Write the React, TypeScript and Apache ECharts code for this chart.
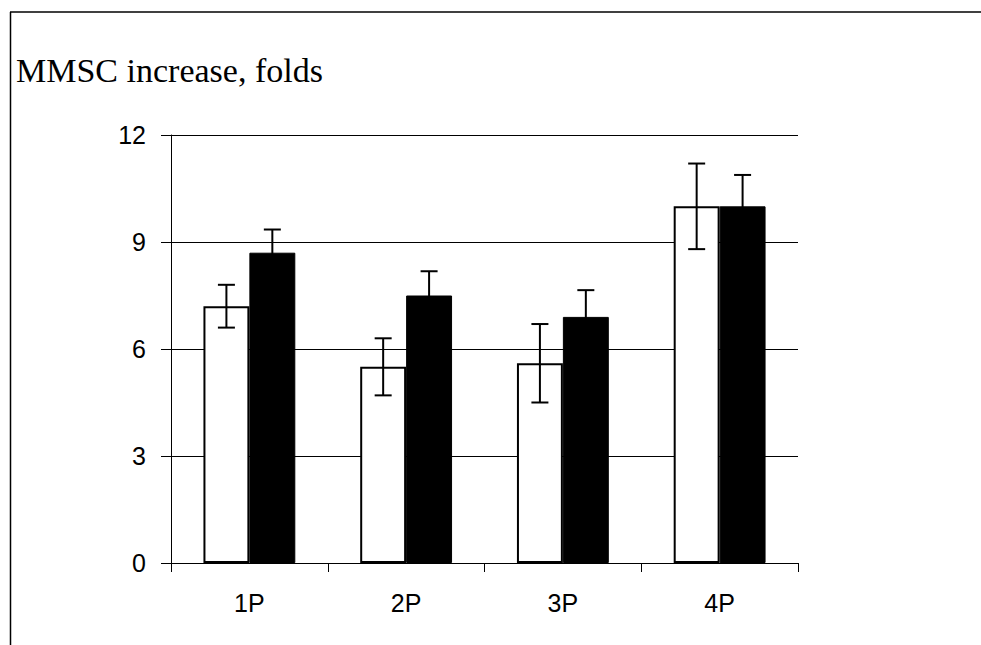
import React, { useEffect, useRef } from "react";
import * as echarts from "echarts";

const categories = ["1P", "2P", "3P", "4P"];
const whiteValues = [7.2, 5.5, 5.6, 10.0];
const whiteErrors = [0.6, 0.8, 1.1, 1.2];
const blackValues = [8.7, 7.5, 6.9, 10.0];
const blackErrors = [0.65, 0.68, 0.75, 0.88];
const yTicks = [0, 3, 6, 9, 12];
const titleText = "MMSC increase, folds";

const BAR_FRAC = 0.293;

function errorSeries(values: number[], errors: number[], side: number) {
  return {
    type: "custom",
    z: 10,
    silent: true,
    data: values.map((v, i) => [i, v, errors[i]]),
    renderItem: (params: any, api: any) => {
      const idx = api.value(0);
      const val = api.value(1);
      const err = api.value(2);
      const band = api.size([1, 0])[0];
      const c = api.coord([idx, val]);
      const x = c[0] + side * band * BAR_FRAC / 2;
      const yTop = api.coord([idx, val + err])[1];
      const yBot = api.coord([idx, val - err])[1];
      const half = 8.5;
      const style = { stroke: "#000", lineWidth: 2, fill: "none" };
      return {
        type: "group",
        children: [
          { type: "line", shape: { x1: x, y1: yTop, x2: x, y2: yBot }, style },
          { type: "line", shape: { x1: x - half, y1: yTop, x2: x + half, y2: yTop }, style },
          { type: "line", shape: { x1: x - half, y1: yBot, x2: x + half, y2: yBot }, style },
        ],
      };
    },
  };
}

export default function App() {
  const ref = useRef<HTMLDivElement>(null);
  useEffect(() => {
    if (!ref.current) return;
    const chart = echarts.init(ref.current, null, { renderer: "svg" });
    chart.setOption({
      animation: false,
      backgroundColor: "#fff",
      grid: { left: 171, top: 135, right: 183, bottom: 82, containLabel: false },
      graphic: [
        { type: "line", shape: { x1: 10, y1: 12, x2: 981, y2: 12 }, style: { stroke: "#000", lineWidth: 1.5 } },
        { type: "line", shape: { x1: 10.5, y1: 12, x2: 10.5, y2: 645 }, style: { stroke: "#000", lineWidth: 1.5 } },
        {
          type: "text",
          left: 16,
          top: 53,
          style: {
            text: titleText,
            fill: "#000",
            font: "34px 'Liberation Serif', 'Times New Roman', serif",
          },
        },
      ],
      xAxis: {
        type: "category",
        data: categories,
        boundaryGap: true,
        axisLine: { show: true, lineStyle: { color: "#000", width: 1 } },
        axisTick: { show: true, alignWithLabel: false, length: 9, lineStyle: { color: "#000", width: 1 } },
        axisLabel: {
          color: "#000",
          fontSize: 25,
          fontFamily: "'Liberation Sans', Arial, sans-serif",
          margin: 27,
        },
        splitLine: { show: false },
      },
      yAxis: {
        type: "value",
        min: 0,
        max: 12,
        interval: 3,
        axisLine: { show: true, lineStyle: { color: "#000", width: 1 } },
        axisTick: { show: true, length: 10, lineStyle: { color: "#000", width: 1 } },
        axisLabel: {
          color: "#000",
          fontSize: 25,
          fontFamily: "'Liberation Sans', Arial, sans-serif",
          margin: 25,
          formatter: (v: number) => (yTicks.includes(v) ? String(v) : ""),
        },
        splitLine: { show: true, lineStyle: { color: "#000", width: 1 } },
      },
      series: [
        {
          type: "bar",
          data: whiteValues,
          barWidth: (BAR_FRAC * 100).toFixed(1) + "%",
          barGap: "0%",
          itemStyle: { color: "#fff", borderColor: "#000", borderWidth: 2 },
          z: 3,
        },
        {
          type: "bar",
          data: blackValues,
          barWidth: (BAR_FRAC * 100).toFixed(1) + "%",
          barGap: "0%",
          itemStyle: { color: "#000", borderColor: "#000", borderWidth: 1 },
          z: 3,
        },
        errorSeries(whiteValues, whiteErrors, -1),
        errorSeries(blackValues, blackErrors, 1),
      ],
    });
    return () => chart.dispose();
  }, []);
  return (
    <div
      ref={ref}
      style={{ position: "absolute", left: 0, top: 0, width: 981, height: 645 }}
    />
  );
}
